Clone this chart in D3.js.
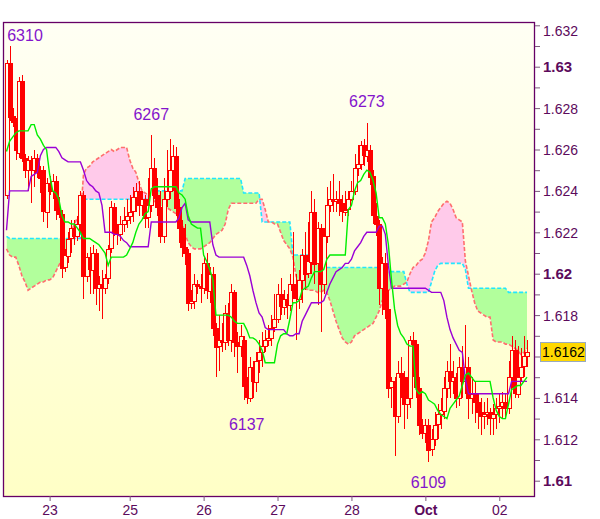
<!DOCTYPE html>
<html><head><meta charset="utf-8">
<script src="https://cdn.jsdelivr.net/npm/d3@7"></script>
<style>
body{margin:0;background:#fff;}
svg{display:block;font-family:"Liberation Sans",Arial,sans-serif;}
</style>
</head><body>
<svg id="chart" width="600" height="519"></svg>
<script>
// ---- data (hourly candles) ----
const open=[1.6238,1.6302,1.6276,1.6273,1.6258,1.6293,1.6256,1.6250,1.6255,1.6250,
1.6256,1.6249,1.6250,1.6230,1.6244,1.6240,1.6245,1.6231,1.6229,1.6203,
1.6209,1.6217,1.6222,1.6218,1.6224,1.6238,1.6199,1.6208,1.6202,1.6210,
1.6193,1.6195,1.6193,1.6198,1.6212,1.6232,1.6220,1.6219,1.6224,1.6226,
1.6228,1.6230,1.6237,1.6240,1.6233,1.6236,1.6227,1.6233,1.6251,1.6238,
1.6232,1.6218,1.6236,1.6240,1.6250,1.6257,1.6232,1.6222,1.6213,1.6210,
1.6186,1.6187,1.6195,1.6194,1.6193,1.6205,1.6192,1.6200,1.6174,1.6165,
1.6168,1.6167,1.6181,1.6168,1.6191,1.6167,1.6165,1.6168,1.6146,1.6140,
1.6155,1.6148,1.6158,1.6162,1.6165,1.6168,1.6169,1.6174,1.6178,1.6190,
1.6184,1.6188,1.6185,1.6195,1.6192,1.6188,1.6197,1.6209,1.6200,1.6206,
1.6230,1.6205,1.6222,1.6195,1.6218,1.6233,1.6236,1.6235,1.6236,1.6234,
1.6230,1.6231,1.6236,1.6240,1.6251,1.6253,1.6262,1.6257,1.6260,1.6247,
1.6228,1.6224,1.6193,1.6205,1.6183,1.6145,1.6148,1.6131,1.6152,1.6150,
1.6137,1.6140,1.6168,1.6166,1.6145,1.6127,1.6123,1.6127,1.6115,1.6120,
1.6127,1.6132,1.6134,1.6145,1.6153,1.6148,1.6150,1.6140,1.6155,1.6148,
1.6155,1.6140,1.6142,1.6138,1.6133,1.6131,1.6132,1.6133,1.6130,1.6132,
1.6135,1.6136,1.6138,1.6135,1.6150,1.6163,1.6142,1.6150,1.6155,1.6160];
const high=[1.6303,1.6310,1.6280,1.6275,1.6295,1.6296,1.6258,1.6257,1.6257,1.6260,
1.6258,1.6252,1.6252,1.6246,1.6247,1.6248,1.6247,1.6237,1.6231,1.6212,
1.6220,1.6226,1.6226,1.6228,1.6240,1.6240,1.6210,1.6213,1.6214,1.6212,
1.6199,1.6202,1.6200,1.6214,1.6235,1.6234,1.6224,1.6228,1.6232,1.6236,
1.6238,1.6242,1.6244,1.6245,1.6240,1.6238,1.6246,1.6267,1.6256,1.6246,
1.6240,1.6246,1.6260,1.6265,1.6262,1.6261,1.6236,1.6226,1.6224,1.6212,
1.6192,1.6200,1.6197,1.6200,1.6208,1.6210,1.6203,1.6203,1.6176,1.6180,
1.6176,1.6185,1.6186,1.6195,1.6192,1.6172,1.6175,1.6170,1.6150,1.6160,
1.6158,1.6162,1.6168,1.6172,1.6173,1.6175,1.6180,1.6190,1.6195,1.6198,
1.6192,1.6190,1.6200,1.6220,1.6200,1.6202,1.6212,1.6220,1.6225,1.6240,
1.6236,1.6225,1.6224,1.6222,1.6242,1.6245,1.6248,1.6240,1.6245,1.6238,
1.6240,1.6240,1.6245,1.6258,1.6262,1.6264,1.6265,1.6273,1.6262,1.6250,
1.6234,1.6226,1.6208,1.6210,1.6192,1.6150,1.6150,1.6158,1.6160,1.6153,
1.6150,1.6170,1.6172,1.6168,1.6150,1.6130,1.6130,1.6130,1.6125,1.6133,
1.6137,1.6140,1.6150,1.6158,1.6166,1.6158,1.6152,1.6160,1.6165,1.6175,
1.6160,1.6150,1.6148,1.6142,1.6140,1.6138,1.6140,1.6135,1.6137,1.6140,
1.6142,1.6143,1.6142,1.6158,1.6170,1.6168,1.6165,1.6164,1.6170,1.6168];
const low=[1.6236,1.6274,1.6271,1.6255,1.6256,1.6254,1.6246,1.6240,1.6234,1.6242,
1.6246,1.6239,1.6225,1.6222,1.6238,1.6236,1.6226,1.6227,1.6198,1.6201,
1.6205,1.6210,1.6214,1.6216,1.6220,1.6188,1.6196,1.6190,1.6190,1.6185,
1.6182,1.6178,1.6190,1.6195,1.6210,1.6218,1.6214,1.6216,1.6220,1.6222,
1.6224,1.6225,1.6230,1.6228,1.6228,1.6222,1.6222,1.6230,1.6236,1.6228,
1.6215,1.6215,1.6232,1.6236,1.6240,1.6228,1.6215,1.6208,1.6204,1.6182,
1.6183,1.6183,1.6190,1.6186,1.6190,1.6188,1.6186,1.6170,1.6150,1.6153,
1.6162,1.6163,1.6165,1.6162,1.6160,1.6152,1.6160,1.6139,1.6137,1.6138,
1.6140,1.6143,1.6152,1.6155,1.6162,1.6165,1.6165,1.6172,1.6176,1.6180,
1.6180,1.6178,1.6182,1.6188,1.6168,1.6183,1.6186,1.6192,1.6198,1.6200,
1.6195,1.6185,1.6172,1.6190,1.6215,1.6230,1.6230,1.6230,1.6228,1.6225,
1.6228,1.6228,1.6235,1.6238,1.6247,1.6250,1.6252,1.6254,1.6243,1.6224,
1.6218,1.6185,1.6180,1.6178,1.6140,1.6135,1.6112,1.6128,1.6140,1.6125,
1.6130,1.6135,1.6150,1.6140,1.6122,1.6120,1.6118,1.6109,1.6112,1.6117,
1.6120,1.6125,1.6130,1.6140,1.6140,1.6142,1.6135,1.6136,1.6140,1.6142,
1.6130,1.6132,1.6128,1.6125,1.6122,1.6125,1.6127,1.6122,1.6122,1.6125,
1.6128,1.6130,1.6130,1.6132,1.6145,1.6140,1.6140,1.6148,1.6150,1.6155];
const close=[1.6302,1.6276,1.6273,1.6260,1.6293,1.6256,1.6250,1.6255,1.6250,1.6256,
1.6249,1.6246,1.6230,1.6244,1.6240,1.6245,1.6231,1.6229,1.6203,1.6209,
1.6217,1.6222,1.6218,1.6224,1.6238,1.6199,1.6208,1.6202,1.6210,1.6193,
1.6195,1.6193,1.6198,1.6212,1.6232,1.6220,1.6219,1.6224,1.6226,1.6228,
1.6230,1.6237,1.6240,1.6233,1.6236,1.6227,1.6233,1.6251,1.6238,1.6232,
1.6218,1.6236,1.6240,1.6250,1.6257,1.6232,1.6222,1.6213,1.6210,1.6186,
1.6187,1.6195,1.6194,1.6193,1.6205,1.6192,1.6200,1.6174,1.6165,1.6168,
1.6167,1.6181,1.6168,1.6191,1.6167,1.6165,1.6170,1.6146,1.6140,1.6155,
1.6148,1.6158,1.6162,1.6165,1.6168,1.6169,1.6174,1.6178,1.6190,1.6184,
1.6188,1.6185,1.6195,1.6192,1.6188,1.6197,1.6209,1.6200,1.6206,1.6230,
1.6205,1.6222,1.6195,1.6218,1.6233,1.6236,1.6235,1.6236,1.6234,1.6230,
1.6231,1.6236,1.6240,1.6251,1.6253,1.6262,1.6257,1.6260,1.6247,1.6228,
1.6224,1.6193,1.6205,1.6183,1.6145,1.6148,1.6131,1.6152,1.6150,1.6137,
1.6140,1.6168,1.6166,1.6145,1.6127,1.6123,1.6127,1.6115,1.6120,1.6127,
1.6132,1.6134,1.6145,1.6153,1.6148,1.6150,1.6140,1.6155,1.6148,1.6155,
1.6140,1.6142,1.6138,1.6133,1.6131,1.6132,1.6133,1.6130,1.6132,1.6135,
1.6136,1.6138,1.6135,1.6150,1.6163,1.6142,1.6150,1.6155,1.6160,1.6162];
// Ichimoku lines
const tenkan=[1.6259,1.6264,1.6266,1.6268,1.6269,1.6269,1.6269,1.6269,1.6272,1.6272,
1.6267,1.6265,1.6262,1.6260,1.6248,1.6240,1.6239,1.6236,1.6228,1.6225,
1.6225,1.6224,1.6224,1.6222,1.6220,1.6217,1.6217,1.6217,1.6216,1.6215,
1.6214,1.6212,1.6210,1.6204,1.6208,1.6208,1.6208,1.6208,1.6208,1.6209,
1.6212,1.6215,1.6220,1.6224,1.6226,1.6229,1.6230,1.6241,1.6242,1.6242,
1.6242,1.6242,1.6242,1.6242,1.6242,1.6242,1.6239,1.6238,1.6236,1.6228,
1.6224,1.6223,1.6222,1.6222,1.6209,1.6206,1.6202,1.6197,1.6180,1.6180,
1.6180,1.6180,1.6180,1.6179,1.6177,1.6176,1.6176,1.6176,1.6173,1.6169,
1.6169,1.6168,1.6166,1.6163,1.6157,1.6157,1.6157,1.6157,1.6166,1.6170,
1.6171,1.6171,1.6178,1.6186,1.6186,1.6187,1.6192,1.6193,1.6194,1.6198,
1.6201,1.6201,1.6201,1.6202,1.6207,1.6209,1.6209,1.6209,1.6209,1.6209,
1.6209,1.6231,1.6233,1.6240,1.6244,1.6245,1.6248,1.6250,1.6249,1.6245,
1.6239,1.6227,1.6227,1.6224,1.6214,1.6197,1.6183,1.6175,1.6171,1.6169,
1.6166,1.6165,1.6165,1.6144,1.6142,1.6143,1.6142,1.6139,1.6138,1.6137,
1.6134,1.6132,1.6131,1.6130,1.6135,1.6137,1.6139,1.6141,1.6146,1.6151,
1.6152,1.6150,1.6148,1.6148,1.6148,1.6148,1.6148,1.6148,1.6140,1.6134,
1.6131,1.6130,1.6130,1.6137,1.6144,1.6145,1.6146,1.6146,1.6148,1.6150];
const kijun=[1.6221,1.6240,1.6240,1.6240,1.6240,1.6240,1.6240,1.6240,1.6247,1.6248,
1.6249,1.6257,1.6260,1.6261,1.6261,1.6261,1.6261,1.6259,1.6256,1.6255,
1.6254,1.6254,1.6254,1.6254,1.6254,1.6250,1.6245,1.6243,1.6242,1.6240,
1.6239,1.6233,1.6220,1.6220,1.6220,1.6219,1.6219,1.6218,1.6216,1.6215,
1.6213,1.6213,1.6213,1.6213,1.6213,1.6213,1.6213,1.6225,1.6225,1.6225,
1.6225,1.6225,1.6225,1.6225,1.6225,1.6225,1.6227,1.6232,1.6234,1.6226,
1.6225,1.6225,1.6225,1.6225,1.6225,1.6225,1.6225,1.6214,1.6209,1.6208,
1.6208,1.6208,1.6208,1.6208,1.6208,1.6208,1.6208,1.6208,1.6204,1.6199,
1.6192,1.6186,1.6181,1.6179,1.6174,1.6173,1.6173,1.6173,1.6173,1.6173,
1.6173,1.6171,1.6170,1.6170,1.6171,1.6171,1.6177,1.6180,1.6183,1.6186,
1.6186,1.6186,1.6186,1.6187,1.6191,1.6195,1.6198,1.6201,1.6202,1.6203,
1.6205,1.6205,1.6207,1.6211,1.6213,1.6215,1.6218,1.6220,1.6220,1.6220,
1.6220,1.6223,1.6223,1.6219,1.6204,1.6193,1.6193,1.6193,1.6193,1.6193,
1.6193,1.6193,1.6193,1.6193,1.6193,1.6193,1.6193,1.6192,1.6191,1.6191,
1.6191,1.6191,1.6187,1.6179,1.6173,1.6169,1.6166,1.6163,1.6162,1.6149,
1.6142,1.6142,1.6142,1.6142,1.6142,1.6142,1.6142,1.6142,1.6142,1.6142,
1.6142,1.6142,1.6142,1.6142,1.6148,1.6148,1.6148,1.6148,1.6148,1.6148];
const spanA=[1.6212,1.6209,1.6208,1.6208,1.6204,1.6199,1.6196,1.6192,1.6193,1.6194,
1.6195,1.6196,1.6196,1.6197,1.6197,1.6198,1.6201,1.6204,1.6207,1.6208,
1.6211,1.6220,1.6224,1.6227,1.6227,1.6248,1.6251,1.6252,1.6254,1.6255,
1.6256,1.6257,1.6258,1.6259,1.6260,1.6259,1.6260,1.6261,1.6261,1.6261,
1.6255,1.6251,1.6249,1.6244,1.6240,1.6239,1.6238,1.6236,1.6235,1.6234,
1.6233,1.6232,1.6232,1.6231,1.6230,1.6229,1.6227,1.6224,1.6219,1.6215,
1.6213,1.6212,1.6212,1.6212,1.6213,1.6214,1.6215,1.6217,1.6219,1.6220,
1.6221,1.6224,1.6231,1.6234,1.6234,1.6234,1.6234,1.6234,1.6234,1.6234,
1.6234,1.6234,1.6236,1.6236,1.6231,1.6225,1.6225,1.6224,1.6224,1.6220,
1.6216,1.6214,1.6212,1.6208,1.6199,1.6195,1.6193,1.6193,1.6192,1.6192,
1.6192,1.6191,1.6191,1.6192,1.6191,1.6187,1.6182,1.6177,1.6173,1.6169,
1.6167,1.6166,1.6167,1.6170,1.6171,1.6172,1.6173,1.6174,1.6175,1.6176,
1.6179,1.6182,1.6187,1.6189,1.6192,1.6193,1.6194,1.6194,1.6194,1.6195,
1.6196,1.6200,1.6203,1.6204,1.6206,1.6207,1.6210,1.6216,1.6225,1.6227,
1.6230,1.6232,1.6234,1.6235,1.6234,1.6231,1.6227,1.6226,1.6225,1.6206,
1.6199,1.6192,1.6186,1.6182,1.6181,1.6180,1.6179,1.6179,1.6168,1.6167,
1.6167,1.6167,1.6166,1.6166,1.6165,1.6164,1.6163,1.6161,1.6162,1.6164];
const spanB=[1.6218,1.6217,1.6217,1.6217,1.6217,1.6217,1.6217,1.6217,1.6217,1.6217,
1.6217,1.6217,1.6217,1.6217,1.6217,1.6217,1.6217,1.6217,1.6217,1.6217,
1.6217,1.6217,1.6217,1.6217,1.6217,1.6236,1.6236,1.6236,1.6236,1.6236,
1.6236,1.6236,1.6236,1.6236,1.6236,1.6236,1.6236,1.6236,1.6236,1.6236,
1.6236,1.6236,1.6236,1.6236,1.6236,1.6236,1.6236,1.6240,1.6240,1.6240,
1.6240,1.6240,1.6240,1.6240,1.6240,1.6240,1.6240,1.6240,1.6246,1.6246,
1.6246,1.6246,1.6246,1.6246,1.6246,1.6246,1.6246,1.6246,1.6246,1.6246,
1.6246,1.6246,1.6246,1.6246,1.6246,1.6246,1.6246,1.6239,1.6239,1.6239,
1.6239,1.6239,1.6239,1.6225,1.6225,1.6225,1.6225,1.6225,1.6225,1.6225,
1.6225,1.6225,1.6225,1.6209,1.6209,1.6209,1.6209,1.6209,1.6209,1.6209,
1.6209,1.6209,1.6209,1.6203,1.6203,1.6203,1.6203,1.6203,1.6203,1.6203,
1.6203,1.6203,1.6203,1.6203,1.6203,1.6203,1.6203,1.6203,1.6203,1.6203,
1.6203,1.6203,1.6203,1.6201,1.6201,1.6201,1.6201,1.6201,1.6201,1.6201,
1.6195,1.6191,1.6191,1.6191,1.6191,1.6191,1.6191,1.6191,1.6196,1.6201,
1.6204,1.6205,1.6205,1.6205,1.6205,1.6205,1.6205,1.6205,1.6205,1.6202,
1.6193,1.6193,1.6193,1.6193,1.6193,1.6193,1.6193,1.6193,1.6193,1.6193,
1.6193,1.6193,1.6193,1.6191,1.6191,1.6191,1.6191,1.6191,1.6191,1.6191];
// axis labels
const dayTickIndex=[14,40,64,88,112,136,160];
const dayTickLabel=["23","25","26","27","28","Oct","02"];
const boldDays=["Oct"];
const priceTickValues=d3.range(0,23).map(k=>+(1.610+k*0.001).toFixed(3));
const priceLabelValues=[1.610,1.612,1.614,1.618,1.620,1.622,1.624,1.626,1.628,1.630,1.632];
const boldPrices=[1.61,1.62,1.63];
const lastPrice=1.6162;
const extremes=[
 {i:1,price:1.6310,text:"6310",kind:"high"},
 {i:47,price:1.6267,text:"6267",kind:"high"},
 {i:117,price:1.6273,text:"6273",kind:"high"},
 {i:78,price:1.6137,text:"6137",kind:"low"},
 {i:137,price:1.6109,text:"6109",kind:"low"}];

// ---- layout ----
const W=600,H=519;
const frame={l:3,t:22,r:535,b:496};
const N=close.length;
const svg=d3.select("#chart");
const x=d3.scaleLinear().domain([0,N-1]).range([6.5,527]);
const y=d3.scaleLinear().domain([1.610,1.632]).range([480.7,25.3]);

const defs=svg.append("defs");
const g=defs.append("linearGradient").attr("id","bg").attr("gradientUnits","userSpaceOnUse")
  .attr("x1",0).attr("y1",frame.t).attr("x2",0).attr("y2",frame.b);
g.append("stop").attr("offset","0").attr("stop-color","#fffff4");
g.append("stop").attr("offset","1").attr("stop-color","#ffffc6");
defs.append("clipPath").attr("id","plot").append("rect")
  .attr("x",frame.l).attr("y",frame.t).attr("width",frame.r-frame.l).attr("height",frame.b-frame.t);

const idx=d3.range(N);
const aboveA=d3.area().x(i=>x(i)).y0(0).y1(i=>y(spanA[i]));
const belowA=d3.area().x(i=>x(i)).y0(H).y1(i=>y(spanA[i]));
defs.append("clipPath").attr("id","aboveA").append("path").attr("d",aboveA(idx));
defs.append("clipPath").attr("id","belowA").append("path").attr("d",belowA(idx));

svg.append("rect").attr("x",frame.l).attr("y",frame.t)
  .attr("width",frame.r-frame.l).attr("height",frame.b-frame.t).attr("fill","url(#bg)");

const plot=svg.append("g").attr("clip-path","url(#plot)");
const band=d3.area().x(i=>x(i)).y0(i=>y(spanA[i])).y1(i=>y(spanB[i]));
plot.append("g").attr("clip-path","url(#aboveA)").append("path").attr("d",band(idx)).attr("fill","#b2ff9c");
plot.append("g").attr("clip-path","url(#belowA)").append("path").attr("d",band(idx)).attr("fill","#ffcaea");

const line=arr=>d3.line().x(i=>x(i)).y(i=>y(arr[i]))(idx);
plot.append("path").attr("d",line(spanB)).attr("fill","none").attr("stroke","#22e6ff")
  .attr("stroke-width",1.6).attr("stroke-dasharray","4,2");
plot.append("path").attr("d",line(spanA)).attr("fill","none").attr("stroke","#ff6e6e")
  .attr("stroke-width",1.6).attr("stroke-dasharray","4,2");

// candles
const cg=plot.append("g").attr("shape-rendering","crispEdges");
idx.forEach(i=>{
  const cx=Math.round(x(i))+0.5;
  const yo=y(open[i]),yc=y(close[i]);
  const top=Math.min(yo,yc),bot=Math.max(yo,yc);
  const up=close[i]>=open[i];
  cg.append("line").attr("x1",cx).attr("x2",cx).attr("y1",y(high[i])).attr("y2",top)
    .attr("stroke","#ff0000").attr("stroke-width",1);
  cg.append("line").attr("x1",cx).attr("x2",cx).attr("y1",bot).attr("y2",y(low[i]))
    .attr("stroke","#ff0000").attr("stroke-width",1);
  cg.append("rect").attr("x",cx-2).attr("y",Math.round(top)+0.5)
    .attr("width",4).attr("height",Math.max(1,Math.round(bot-top)))
    .attr("fill",up?"url(#bg)":"#ff0000").attr("stroke","#ff0000").attr("stroke-width",1);
});

plot.append("path").attr("d",line(kijun)).attr("fill","none").attr("stroke","#9a00d6").attr("stroke-width",1.4);
plot.append("path").attr("d",line(tenkan)).attr("fill","none").attr("stroke","#00ee00").attr("stroke-width",1.4);

// extremes labels
extremes.forEach(e=>{
  const w=36;
  let cx=Math.max(x(e.i),frame.l+4+w/2);
  let cy=e.kind==="high"?y(e.price)-21:y(e.price)+20;
  cy=Math.max(cy,frame.t+13);
  svg.append("text").attr("x",cx).attr("y",cy).attr("dy","0.35em").attr("text-anchor","middle")
    .attr("font-size",16).attr("fill","#8414cc").text(e.text);
});

// frame
svg.append("rect").attr("x",frame.l+0.5).attr("y",frame.t+0.5)
  .attr("width",frame.r-frame.l-1).attr("height",frame.b-frame.t)
  .attr("fill","none").attr("stroke","#660066").attr("stroke-width",1.3);

// right axis
const fmt=v=>String(+v.toFixed(3));
const yAxis=d3.axisRight(y).tickValues(priceTickValues).tickSize(5).tickPadding(3)
  .tickFormat(v=>priceLabelValues.some(p=>Math.abs(p-v)<1e-9)?fmt(v):"");
const ya=svg.append("g").attr("transform",`translate(${frame.r},0)`).call(yAxis);
ya.select(".domain").remove();
ya.selectAll(".tick line").attr("stroke","#7a5a7a");
ya.selectAll(".tick text").attr("fill","#5c0a5c").attr("font-family","Liberation Sans, Arial, sans-serif")
  .attr("font-size",v=>boldPrices.some(p=>Math.abs(p-v)<1e-9)?15:14)
  .attr("font-weight",v=>boldPrices.some(p=>Math.abs(p-v)<1e-9)?"bold":"normal")
  .attr("dy",v=>y(v)<frame.t+8?"0.72em":"0.35em");

// last price box
const ly=y(lastPrice);
svg.append("rect").attr("x",540.5).attr("y",Math.round(ly)-9.5).attr("width",45).attr("height",19)
  .attr("fill","#ffd800").attr("stroke","#98aac0").attr("stroke-width",1);
svg.append("text").attr("x",542).attr("y",ly).attr("dy","0.36em").attr("font-size",14)
  .attr("fill","#000").text(String(lastPrice));

// bottom axis
const xAxis=d3.axisBottom(x).tickValues(dayTickIndex).tickSize(5).tickPadding(4)
  .tickFormat((d,k)=>dayTickLabel[k]);
const xa=svg.append("g").attr("transform",`translate(0,${frame.b})`).call(xAxis);
xa.select(".domain").remove();
xa.selectAll(".tick line").attr("stroke","#7a5a7a");
xa.selectAll(".tick text").attr("fill","#5c0a5c").attr("font-family","Liberation Sans, Arial, sans-serif")
  .attr("font-size",14)
  .attr("font-weight",(d,k)=>boldDays.includes(dayTickLabel[k])?"bold":"normal");
</script>
</body></html>
